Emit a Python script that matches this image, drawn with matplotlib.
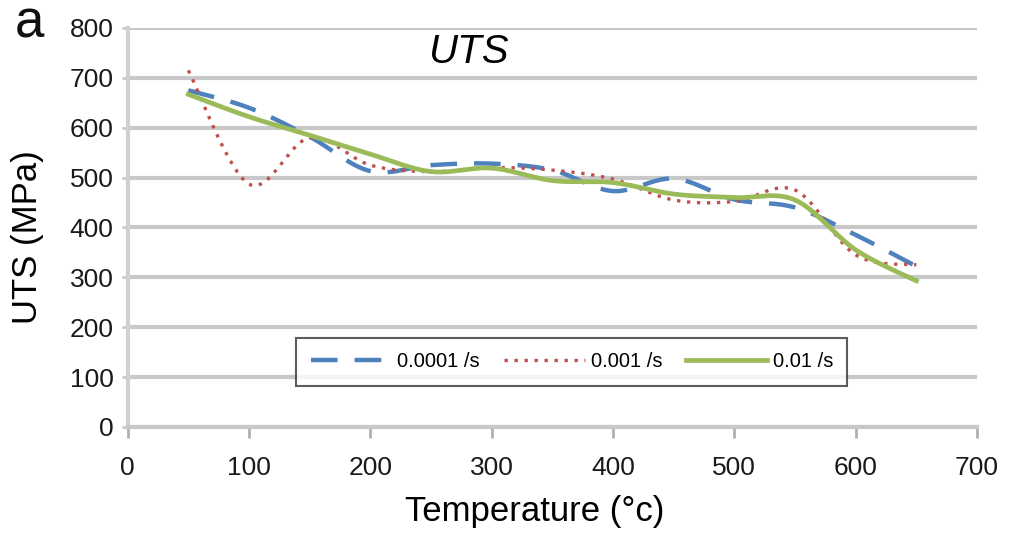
import matplotlib.pyplot as plt
import numpy as np

# data (temperature in C, UTS in MPa)
temps = [50, 100, 150, 200, 250, 300, 350, 400, 450, 500, 550, 600, 650]
uts_0001 = [675, 640, 582, 513, 525, 528, 515, 473, 498, 456, 440, 385, 322]
uts_001 = [715, 487, 580, 525, 512, 520, 515, 497, 455, 452, 475, 345, 325]
uts_01 = [667, 622, 585, 547, 512, 519, 494, 490, 467, 460, 455, 355, 293]
labels = ['0.0001 /s', '0.001 /s', '0.01 /s']


def smooth(x, y, n=40):
    # excel style smoothed line (catmull-rom bezier through the points)
    p = np.column_stack([x, y]).astype(float)
    p = np.vstack([p[0], p, p[-1]])
    t = np.linspace(0, 1, n)[:, None]
    out = []
    for i in range(1, len(p) - 2):
        b0 = p[i]
        b1 = p[i] + (p[i + 1] - p[i - 1]) / 6
        b2 = p[i + 1] - (p[i + 2] - p[i]) / 6
        b3 = p[i + 1]
        seg = ((1 - t) ** 3) * b0 + 3 * ((1 - t) ** 2) * t * b1 + 3 * (1 - t) * t ** 2 * b2 + t ** 3 * b3
        out.append(seg if i == 1 else seg[1:])
    out = np.vstack(out)
    return out[:, 0], out[:, 1]


plt.rcParams['font.family'] = ['Liberation Sans', 'DejaVu Sans']

fig = plt.figure(figsize=(10.13, 5.33), dpi=100)
ax = fig.add_axes([0.126, 0.199, 0.8385, 0.7485])

x, y = smooth(temps, uts_0001)
ax.plot(x, y, color='#4f81bd', lw=3.2, linestyle=(0, (6, 3.8)), label=labels[0])
x, y = smooth(temps, uts_001)
ax.plot(x, y, color='#c0504d', lw=2.4, linestyle=(0, (1, 2)), label=labels[1])
x, y = smooth(temps, uts_01)
ax.plot(x, y, color='#9bbb59', lw=3.4, linestyle='-', label=labels[2])

ax.set_xlim(0, 700)
ax.set_ylim(0, 800)
ax.set_xticks(range(0, 701, 100))
ax.set_yticks(range(0, 801, 100))
ax.grid(axis='y', color='#c8c8c8', lw=3)
ax.set_axisbelow(True)
for s in ['top', 'right']:
    ax.spines[s].set_visible(False)
ax.spines['left'].set_color('#d0d0d0')
ax.spines['left'].set_linewidth(3)
ax.spines['bottom'].set_color('#c8c8c8')
ax.spines['bottom'].set_linewidth(3)
ax.tick_params(axis='x', length=8, width=2, color='#b0b0b0', pad=13, labelsize=19, labelcolor='#1a1a1a')
ax.tick_params(axis='y', length=4, width=2, color='#c8c8c8', pad=6, labelsize=19, labelcolor='#1a1a1a')

ax.set_xlabel('Temperature (°c)', fontsize=25, va='center')
ax.xaxis.set_label_coords(0.479, -0.213)
ax.set_ylabel('UTS (MPa)', fontsize=25, va='center')
ax.yaxis.set_label_coords(-0.118, 0.476)
ax.text(0.402, 0.94, 'UTS', transform=ax.transAxes, fontsize=29, style='italic',
        ha='center', va='center')
fig.text(0.029, 0.955, 'a', fontsize=38, ha='center', va='center', color='#111111')

leg = ax.legend(loc='center', bbox_to_anchor=(0.523, 0.163), ncol=3, fontsize=14.5,
                frameon=True, fancybox=False, handlelength=4.0, columnspacing=1.2,
                handletextpad=0.3, borderpad=0.7)
leg.get_frame().set_edgecolor('#333333')
leg.get_frame().set_linewidth(1.5)

plt.savefig('out.png', dpi=100)
